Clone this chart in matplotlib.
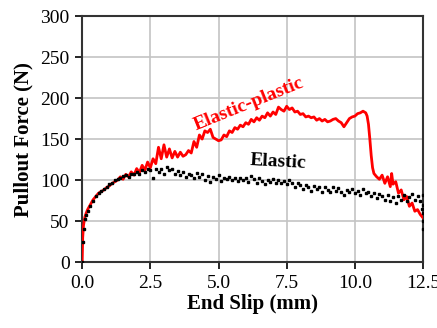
#!/usr/bin/env python3
"""
Pullout force vs end slip: elastic-plastic vs elastic model.
"""

import matplotlib
matplotlib.use("Agg")
import matplotlib.pyplot as plt

# Elastic-plastic model (red line)
ep_slip = [0.00, 0.02, 0.05, 0.10, 0.15, 0.20, 0.30, 0.40, 0.50, 0.60,
           0.70, 0.80, 0.90, 1.00, 1.10, 1.20, 1.30, 1.40, 1.50, 1.60,
           1.70, 1.80, 1.90, 2.00, 2.10, 2.20, 2.30, 2.40, 2.50, 2.60,
           2.70, 2.80, 2.90, 3.00, 3.10, 3.20, 3.30, 3.40, 3.50, 3.60,
           3.70, 3.80, 3.90, 4.00, 4.10, 4.20, 4.30, 4.40, 4.50, 4.60,
           4.70, 4.80, 4.90, 5.00, 5.10, 5.20, 5.30, 5.40, 5.50, 5.60,
           5.70, 5.80, 5.90, 6.00, 6.10, 6.20, 6.30, 6.40, 6.50, 6.60,
           6.70, 6.80, 6.90, 7.00, 7.10, 7.20, 7.30, 7.40, 7.50, 7.60,
           7.70, 7.80, 7.90, 8.00, 8.10, 8.20, 8.30, 8.40, 8.50, 8.60,
           8.70, 8.80, 8.90, 9.00, 9.10, 9.20, 9.30, 9.40, 9.50, 9.60,
           9.70, 9.80, 9.90, 10.00, 10.10, 10.20, 10.30, 10.40, 10.45, 10.50,
           10.55, 10.60, 10.65, 10.70, 10.80, 10.90, 11.00, 11.10, 11.20, 11.30,
           11.35, 11.40, 11.50, 11.60, 11.70, 11.80, 11.90, 12.00, 12.10, 12.20,
           12.30, 12.40, 12.50]
ep_force = [0, 30, 45, 55, 60, 64, 70, 76, 80, 84,
            86, 88, 91, 93, 96, 98, 100, 104, 101, 107,
            104, 110, 106, 114, 109, 118, 112, 122, 115, 126,
            120, 140, 126, 143, 128, 138, 127, 135, 128, 134,
            129, 131, 136, 133, 147, 140, 155, 150, 160, 158,
            162, 152, 150, 148, 149, 155, 153, 160, 158, 164,
            162, 167, 165, 170, 168, 174, 171, 176, 173, 178,
            176, 182, 178, 183, 180, 189, 186, 184, 190, 186,
            188, 183, 184, 180, 181, 177, 178, 176, 177, 173,
            175, 172, 174, 171, 172, 174, 175, 172, 170, 165,
            170, 175, 177, 178, 181, 182, 184, 182, 178, 168,
            150, 130, 115, 108, 104, 101, 106, 96, 104, 92,
            108, 95, 98, 84, 88, 76, 80, 68, 72, 62,
            64, 58, 54]

# Elastic model (black dots)
el_slip = [0.00, 0.02, 0.05, 0.10, 0.15, 0.20, 0.30, 0.40, 0.50, 0.60,
           0.70, 0.80, 0.90, 1.00, 1.10, 1.20, 1.30, 1.40, 1.50, 1.60,
           1.70, 1.80, 1.90, 2.00, 2.10, 2.20, 2.30, 2.40, 2.50, 2.60,
           2.70, 2.80, 2.90, 3.00, 3.10, 3.20, 3.30, 3.40, 3.50, 3.60,
           3.70, 3.80, 3.90, 4.00, 4.10, 4.20, 4.30, 4.40, 4.50, 4.60,
           4.70, 4.80, 4.90, 5.00, 5.10, 5.20, 5.30, 5.40, 5.50, 5.60,
           5.70, 5.80, 5.90, 6.00, 6.10, 6.20, 6.30, 6.40, 6.50, 6.60,
           6.70, 6.80, 6.90, 7.00, 7.10, 7.20, 7.30, 7.40, 7.50, 7.60,
           7.70, 7.80, 7.90, 8.00, 8.10, 8.20, 8.30, 8.40, 8.50, 8.60,
           8.70, 8.80, 8.90, 9.00, 9.10, 9.20, 9.30, 9.40, 9.50, 9.60,
           9.70, 9.80, 9.90, 10.00, 10.10, 10.20, 10.30, 10.40, 10.50, 10.60,
           10.70, 10.80, 10.90, 11.00, 11.10, 11.20, 11.30, 11.40, 11.50, 11.60,
           11.70, 11.80, 11.90, 12.00, 12.10, 12.20, 12.30, 12.40, 12.50, 12.50,
           12.50, 12.50, 12.50, 12.48]
el_force = [0, 25, 40, 52, 58, 62, 68, 74, 80, 84,
            87, 89, 92, 95, 97, 100, 101, 103, 105, 106,
            104, 108, 107, 110, 108, 112, 110, 113, 112, 103,
            114, 110, 113, 108, 116, 112, 114, 108, 111, 106,
            110, 104, 108, 106, 103, 109, 104, 107, 100, 105,
            98, 104, 101, 106, 99, 103, 101, 104, 100, 102,
            99, 103, 100, 102, 98, 105, 101, 97, 102, 99,
            95, 100, 98, 101, 96, 100, 97, 99, 95, 100,
            97, 91, 96, 94, 89, 94, 91, 87, 93, 89,
            91, 86, 92, 88, 85, 91, 87, 90, 86, 82,
            88, 85, 89, 84, 87, 82, 89, 84, 86, 80,
            84, 78, 83, 80, 76, 82, 74, 79, 72, 80,
            76, 82, 74, 79, 83, 76, 80, 75, 82, 70,
            60, 50, 40, 65]

x_ticks = [0.0, 2.5, 5.0, 7.5, 10.0, 12.5]
y_ticks = [0, 50, 100, 150, 200, 250, 300]


def main():
    plt.rcParams["font.family"] = ["Liberation Serif", "DejaVu Serif"]

    fig = plt.figure(figsize=(4.37, 3.28), dpi=100)
    ax = fig.add_axes([0.188, 0.201, 0.780, 0.750])

    ax.plot(ep_slip, ep_force, color="#ff0000", linewidth=2.0, zorder=3)
    ax.plot(el_slip, el_force, linestyle="none", marker="s", markersize=1.8,
            color="black", zorder=4)

    ax.text(6.1, 193, "Elastic-plastic", color="#ff0000", fontsize=14,
            fontweight="bold", rotation=22, ha="center", va="center")
    ax.text(7.2, 122, "Elastic", color="black", fontsize=14,
            fontweight="bold", rotation=-3, ha="center", va="center")

    ax.set_xlim(0, 12.5)
    ax.set_ylim(0, 300)
    ax.set_xticks(x_ticks)
    ax.set_xticklabels([f"{t:.1f}" for t in x_ticks])
    ax.set_yticks(y_ticks)
    ax.tick_params(labelsize=14, length=5, width=1.2, pad=4, direction="out")

    ax.set_xlabel("End Slip (mm)", fontsize=15, fontweight="bold", labelpad=2)
    ax.set_ylabel("Pullout Force (N)", fontsize=15, fontweight="bold", labelpad=5)

    ax.grid(True, color="#c4c4c4", linewidth=1.2)
    ax.set_axisbelow(True)
    for sp in ax.spines.values():
        sp.set_linewidth(1.5)
        sp.set_color("#333333")

    fig.savefig("out.png", dpi=100)
    plt.close(fig)


if __name__ == "__main__":
    main()
